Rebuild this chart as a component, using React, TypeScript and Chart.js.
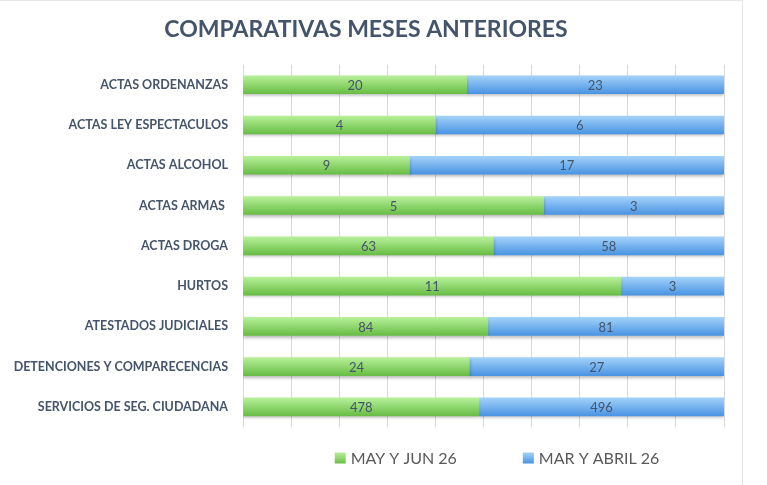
import React, { useEffect, useRef } from "react";
import { Chart, registerables } from "chart.js";

Chart.register(...registerables);

const chartTitle = "COMPARATIVAS MESES ANTERIORES";
const categories = [
  "ACTAS ORDENANZAS",
  "ACTAS LEY ESPECTACULOS",
  "ACTAS ALCOHOL",
  "ACTAS ARMAS ",
  "ACTAS DROGA",
  "HURTOS",
  "ATESTADOS JUDICIALES",
  "DETENCIONES Y COMPARECENCIAS",
  "SERVICIOS DE SEG. CIUDADANA",
];
const seriesNames = ["MAY Y JUN 26", "MAR Y ABRIL 26"];
const mayJun = [20, 4, 9, 5, 63, 11, 84, 24, 478];
const marAbril = [23, 6, 17, 3, 58, 3, 81, 27, 496];

const FONT = "Lato, 'Open Sans', sans-serif";
const GREEN = { top: "#b8f09a", bottom: "#68bd45" };
const BLUE = { top: "#a3d2fa", bottom: "#4a94e2" };

// share of each row total, in percent (100% stacked bars)
const share = (a: number[], b: number[]) => a.map((v, i) => (v / (v + b[i])) * 100);

const gradientFill = (c: { top: string; bottom: string }) => (ctx: any) => {
  const chart = ctx.chart;
  const y = chart.scales && chart.scales.y;
  if (!y || ctx.dataIndex === undefined) return c.bottom;
  const mid = y.getPixelForValue(ctx.dataIndex);
  if (!Number.isFinite(mid)) return c.bottom;
  const g = chart.ctx.createLinearGradient(0, mid - 9, 0, mid + 9);
  g.addColorStop(0, c.top);
  g.addColorStop(1, c.bottom);
  return g;
};

const framePlugin = {
  id: "frame",
  beforeDraw(chart: any) {
    const { ctx, width, height } = chart;
    ctx.save();
    ctx.fillStyle = "#ffffff";
    ctx.fillRect(0, 0, width, height);
    ctx.strokeStyle = "#e6e6e6";
    ctx.lineWidth = 1;
    ctx.beginPath();
    ctx.moveTo(742.5, 0);
    ctx.lineTo(742.5, height);
    ctx.moveTo(0, 0.5);
    ctx.lineTo(742.5, 0.5);
    ctx.stroke();
    ctx.restore();
  },
};

const shadowPlugin = {
  id: "barShadow",
  beforeDatasetsDraw(chart: any) {
    const ctx = chart.ctx;
    ctx.save();
    ctx.shadowColor = "rgba(0,0,0,0.28)";
    ctx.shadowBlur = 3;
    ctx.shadowOffsetY = 2;
  },
  afterDatasetsDraw(chart: any) {
    chart.ctx.restore();
  },
};

const valueLabelPlugin = {
  id: "valueLabels",
  afterDatasetsDraw(chart: any) {
    const ctx = chart.ctx;
    const raw = [mayJun, marAbril];
    ctx.save();
    ctx.font = `13px ${FONT}`;
    ctx.fillStyle = "#44546a";
    ctx.textAlign = "center";
    ctx.textBaseline = "middle";
    chart.data.datasets.forEach((_: any, di: number) => {
      const meta = chart.getDatasetMeta(di);
      meta.data.forEach((el: any, i: number) => {
        const cx = (el.x + el.base) / 2;
        ctx.fillText(String(raw[di][i]), cx, el.y + 1);
      });
    });
    ctx.restore();
  },
};

const legendPlugin = {
  id: "bottomLegend",
  afterDraw(chart: any) {
    const ctx = chart.ctx;
    const colors = [GREEN, BLUE];
    const box = 11;
    const gap = 66;
    const cy = 458;
    const centerX = 497;
    ctx.save();
    ctx.font = `16px ${FONT}`;
    const widths = seriesNames.map((n) => box + 5 + ctx.measureText(n).width);
    let x = centerX - (widths[0] + gap + widths[1]) / 2;
    seriesNames.forEach((name, i) => {
      const g = ctx.createLinearGradient(0, cy - box / 2, 0, cy + box / 2);
      g.addColorStop(0, colors[i].top);
      g.addColorStop(1, colors[i].bottom);
      ctx.fillStyle = g;
      ctx.fillRect(x, cy - box / 2, box, box);
      ctx.fillStyle = "#595959";
      ctx.textBaseline = "middle";
      ctx.textAlign = "left";
      ctx.fillText(name, x + box + 5, cy + 1);
      x += widths[i] + gap;
    });
    ctx.restore();
  },
};

export default function App() {
  const ref = useRef<HTMLCanvasElement>(null);

  useEffect(() => {
    if (!ref.current) return;
    const chart = new Chart(ref.current, {
      type: "bar",
      data: {
        labels: categories,
        datasets: [
          {
            label: seriesNames[0],
            data: share(mayJun, marAbril),
            backgroundColor: gradientFill(GREEN),
            borderWidth: 0,
            barThickness: 18,
          },
          {
            label: seriesNames[1],
            data: share(marAbril, mayJun),
            backgroundColor: gradientFill(BLUE),
            borderWidth: 0,
            barThickness: 18,
          },
        ],
      },
      options: {
        indexAxis: "y",
        responsive: false,
        animation: false,
        layout: { padding: { left: 8, right: 43, top: 0, bottom: 58 } },
        plugins: {
          legend: { display: false },
          tooltip: { enabled: false },
          title: {
            display: true,
            text: chartTitle,
            color: "#44546a",
            font: { family: FONT, size: 23, weight: "bold" },
            padding: { top: 16, bottom: 21 },
          },
        },
        scales: {
          x: {
            stacked: true,
            min: 0,
            max: 100,
            ticks: { display: false, stepSize: 10 },
            grid: { color: "#d9d9d9", drawTicks: false },
            border: { display: false },
          },
          y: {
            stacked: true,
            grid: { display: false, drawTicks: false },
            border: { display: false },
            ticks: {
              color: "#44546a",
              padding: 15,
              font: { family: FONT, size: 12.5, weight: "bold" },
            },
            afterFit: (s: any) => {
              s.width = 235;
            },
          },
        },
      },
      plugins: [framePlugin, shadowPlugin, valueLabelPlugin, legendPlugin],
    } as any);
    return () => chart.destroy();
  }, []);

  return (
    <div style={{ position: "fixed", left: 0, top: 0, width: 767, height: 485, background: "#fff" }}>
      <canvas ref={ref} width={767} height={485} />
    </div>
  );
}
